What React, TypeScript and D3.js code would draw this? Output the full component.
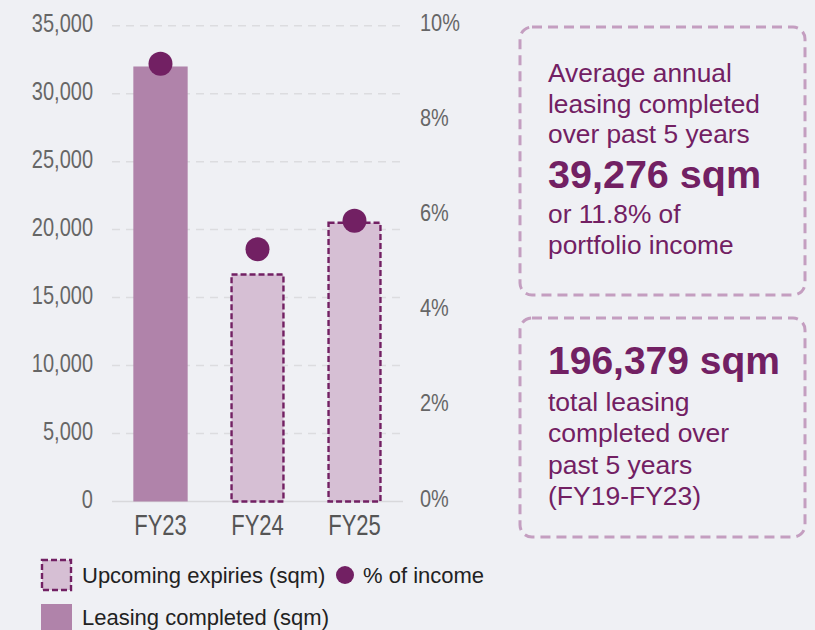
import React from "react";
import * as d3 from "d3";

const categories = ["FY23", "FY24", "FY25"];
const leasingCompleted = [32000, null, null];
const upcomingExpiries = [null, 16700, 20500];
const pctIncome = [9.2, 5.3, 5.9];
const leftTicks = [0, 5000, 10000, 15000, 20000, 25000, 30000, 35000];
const rightTicks = [0, 2, 4, 6, 8, 10];
const box1Lines = ["Average annual", "leasing completed", "over past 5 years"];
const box1Big = "39,276 sqm";
const box1Tail = ["or 11.8% of", "portfolio income"];
const box2Big = "196,379 sqm";
const box2Lines = ["total leasing", "completed over", "past 5 years", "(FY19-FY23)"];
const legendItems = ["Upcoming expiries (sqm)", "% of income", "Leasing completed (sqm)"];

const W = 815;
const H = 630;
const BG = "#eff0f4";
const PURPLE = "#722063";
const SOLID = "#b083aa";
const LIGHT = "#d6bfd4";
const BOXSTROKE = "#c49ec0";
const SANS = "'Liberation Sans', Arial, Helvetica, sans-serif";

export default function App() {
  const x = d3.scaleBand<string>().domain(categories).range([112, 403]).paddingInner(0.44).paddingOuter(0.22);
  const yL = d3.scaleLinear().domain([0, 35000]).range([501.5, 25.7]);
  const yR = d3.scaleLinear().domain([0, 10]).range([501.5, 25.7]);
  const fmt = d3.format(",");

  return (
    <svg width={W} height={H} style={{ position: "absolute", left: 0, top: 0, display: "block" }}>
      <rect x={0} y={0} width={W} height={H} fill={BG} />
      {/* gridlines */}
      {leftTicks.filter((t) => t > 0).map((t) => (
        <line key={t} x1={112} x2={401} y1={yL(t)} y2={yL(t)} stroke="#dcdcdf" strokeWidth={1.5} strokeDasharray="8,6" />
      ))}
      <line x1={112} x2={403} y1={yL(0)} y2={yL(0)} stroke="#d8d8db" strokeWidth={1.5} />
      {/* left tick labels */}
      {leftTicks.map((t) => (
        <text key={t} transform={`translate(93,${yL(t) + 6}) scale(0.8,1)`} textAnchor="end" fontFamily={SANS}
          fontSize={25} fill="#666">
          {fmt(t)}
        </text>
      ))}
      {/* right tick labels */}
      {rightTicks.map((t) => (
        <text key={t} transform={`translate(420,${yR(t) + 5}) scale(0.83,1)`} textAnchor="start" fontFamily={SANS}
          fontSize={24} fill="#666">
          {t}%
        </text>
      ))}
      {/* bars */}
      {categories.map((c, i) =>
        leasingCompleted[i] != null ? (
          <rect key={"s" + c} x={x(c)} y={yL(leasingCompleted[i] as number)} width={x.bandwidth()}
            height={yL(0) - yL(leasingCompleted[i] as number)} fill={SOLID} />
        ) : null
      )}
      {categories.map((c, i) =>
        upcomingExpiries[i] != null ? (
          <rect key={"e" + c} x={(x(c) as number) + 1.2} y={yL(upcomingExpiries[i] as number)} width={x.bandwidth() - 2.4}
            height={yL(0) - yL(upcomingExpiries[i] as number)} fill={LIGHT} stroke={PURPLE} strokeWidth={2.4}
            strokeDasharray="6,3" />
        ) : null
      )}
      {/* dots */}
      {categories.map((c, i) => (
        <circle key={"d" + c} cx={(x(c) as number) + x.bandwidth() / 2} cy={yR(pctIncome[i])} r={12} fill={PURPLE} />
      ))}
      {/* x labels */}
      {categories.map((c) => (
        <text key={"x" + c} transform={`translate(${(x(c) as number) + x.bandwidth() / 2},535) scale(0.76,1)`}
          textAnchor="middle" fontFamily={SANS} fontSize={29} fill="#555">
          {c}
        </text>
      ))}
      {/* legend */}
      <rect x={42} y={560} width={29} height={30} fill={LIGHT} stroke={PURPLE} strokeWidth={2.4} strokeDasharray="6,3" />
      <text x={82} y={583} fontFamily={SANS} fontSize={22} fill="#222">{legendItems[0]}</text>
      <circle cx={345} cy={575} r={9} fill={PURPLE} />
      <text x={363} y={583} fontFamily={SANS} fontSize={22} fill="#222">{legendItems[1]}</text>
      <rect x={41} y={604} width={31} height={30} fill={SOLID} />
      <text x={82} y={625} fontFamily={SANS} fontSize={22} fill="#222">{legendItems[2]}</text>
      {/* box 1 */}
      <rect x={520} y={27} width={285} height={268} rx={12} ry={12} fill="none" stroke={BOXSTROKE} strokeWidth={3}
        strokeDasharray="10,6" />
      {box1Lines.map((l, i) => (
        <text key={l} x={548} y={82 + i * 30.5} fontFamily={SANS} fontSize={26.3} fill={PURPLE}>{l}</text>
      ))}
      <text x={548} y={188} fontFamily={SANS} fontSize={39.5} fontWeight="bold" fill={PURPLE}>{box1Big}</text>
      {box1Tail.map((l, i) => (
        <text key={l} x={548} y={223 + i * 30.5} fontFamily={SANS} fontSize={26.3} fill={PURPLE}>{l}</text>
      ))}
      {/* box 2 */}
      <rect x={520} y={318} width={285} height={219} rx={12} ry={12} fill="none" stroke={BOXSTROKE} strokeWidth={3}
        strokeDasharray="10,6" />
      <text x={548} y={374} fontFamily={SANS} fontSize={39} fontWeight="bold" fill={PURPLE}>{box2Big}</text>
      {box2Lines.map((l, i) => (
        <text key={l} x={548} y={411 + i * 31.3} fontFamily={SANS} fontSize={26.5} fill={PURPLE}>{l}</text>
      ))}
    </svg>
  );
}
